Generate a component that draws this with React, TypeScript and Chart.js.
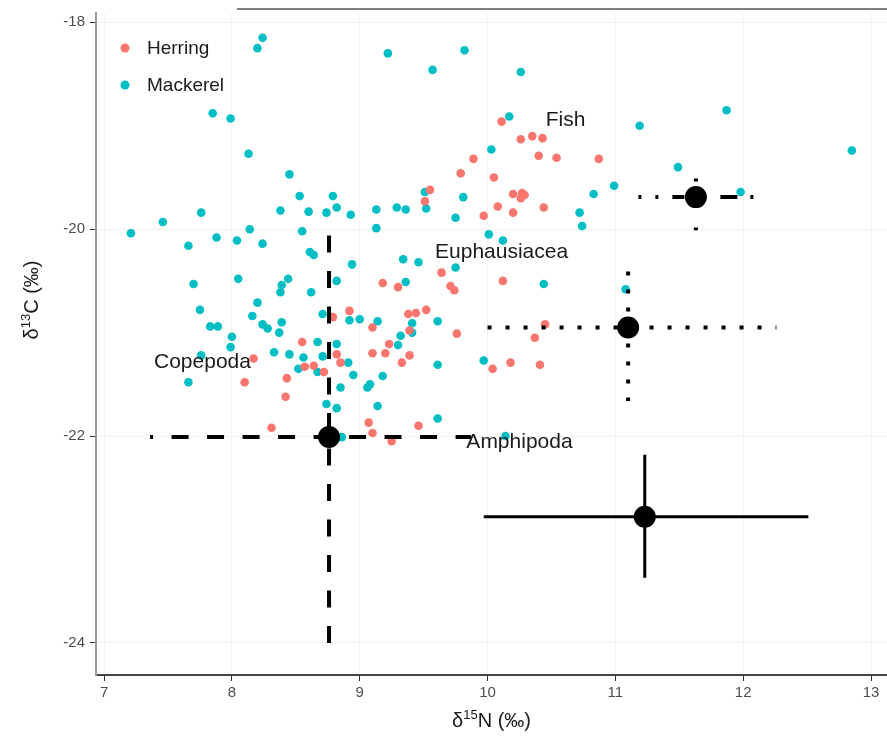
import React, { useEffect, useRef } from "react";
import { Chart, registerables } from "chart.js";
Chart.register(...registerables);

// ---- Data ----
const herringN = [10.11,10.26,10.35,10.43,9.89,10.40,10.54,10.87,9.79,10.05,10.20,10.27,10.26,10.29,9.55,9.51,10.08,10.44,10.20,9.97,9.64,9.71,9.74,9.18,9.30,10.12,8.79,8.92,9.10,9.38,9.44,9.52,9.39,9.76,10.45,10.37,8.55,8.17,8.10,8.82,8.85,9.23,9.10,9.20,9.39,9.33,8.57,8.64,8.72,8.43,8.42,10.04,10.18,10.41,8.31,9.07,9.10,9.46,9.25];
const herringC = [-18.96,-19.13,-19.10,-19.12,-19.32,-19.29,-19.31,-19.32,-19.46,-19.50,-19.66,-19.65,-19.70,-19.67,-19.62,-19.73,-19.78,-19.79,-19.84,-19.87,-20.42,-20.55,-20.59,-20.52,-20.56,-20.50,-20.85,-20.79,-20.95,-20.82,-20.81,-20.78,-20.98,-21.01,-20.92,-21.05,-21.09,-21.25,-21.48,-21.21,-21.29,-21.11,-21.20,-21.20,-21.22,-21.29,-21.33,-21.32,-21.38,-21.44,-21.62,-21.35,-21.29,-21.31,-21.92,-21.87,-21.97,-21.90,-22.05];

const mackerelN = [8.24,8.20,9.22,9.82,9.57,10.26,7.85,7.99,10.17,11.19,11.87,12.85,8.13,10.03,11.49,8.45,10.99,10.83,11.98,9.51,9.81,8.53,8.79,8.82,9.13,9.29,9.36,9.52,8.60,8.74,8.93,8.38,7.76,7.46,7.21,9.75,10.72,10.74,9.13,10.01,10.12,7.66,7.88,8.04,8.14,8.24,8.55,8.61,8.64,8.94,9.34,9.46,9.75,8.82,7.70,8.05,8.44,8.39,8.38,8.62,9.36,10.44,11.08,8.20,7.75,8.16,7.83,7.89,8.24,8.28,8.39,8.37,8.00,7.99,8.71,8.92,9.00,9.14,9.41,9.61,9.32,9.30,8.67,8.82,7.76,7.66,8.33,8.45,8.56,8.71,8.91,8.52,8.67,8.95,9.18,8.85,9.06,9.08,9.61,9.97,8.74,8.82,9.14,9.61,8.86,10.14,9.41];
const mackerelC = [-18.15,-18.25,-18.30,-18.27,-18.46,-18.48,-18.88,-18.93,-18.91,-19.00,-18.85,-19.24,-19.27,-19.23,-19.40,-19.47,-19.58,-19.66,-19.64,-19.64,-19.69,-19.68,-19.68,-19.79,-19.81,-19.79,-19.81,-19.80,-19.83,-19.84,-19.86,-19.82,-19.84,-19.93,-20.04,-19.89,-19.84,-19.97,-19.99,-20.05,-20.11,-20.16,-20.08,-20.11,-20.00,-20.14,-20.02,-20.22,-20.25,-20.34,-20.29,-20.32,-20.37,-20.50,-20.53,-20.48,-20.48,-20.54,-20.61,-20.61,-20.51,-20.53,-20.58,-20.71,-20.78,-20.84,-20.94,-20.94,-20.92,-20.96,-20.90,-21.00,-21.04,-21.14,-20.82,-20.88,-20.87,-20.89,-20.91,-20.89,-21.03,-21.12,-21.09,-21.11,-21.22,-21.48,-21.19,-21.21,-21.24,-21.23,-21.29,-21.35,-21.38,-21.41,-21.42,-21.53,-21.53,-21.50,-21.31,-21.27,-21.69,-21.73,-21.71,-21.83,-22.01,-22.00,-21.00];

const preyNames = ["Fish", "Euphausiacea", "Amphipoda", "Copepoda"];
const preyN = [11.63, 11.10, 8.76, 11.23];
const preyC = [-19.69, -20.95, -22.01, -22.78];
const preyNLow = [11.18, 10.00, 7.36, 9.97];
const preyNHigh = [12.08, 12.26, 9.87, 12.51];
const preyCTop = [-19.51, -20.41, -20.06, -22.18];
const preyCBottom = [-20.01, -21.66, -24.02, -23.37];
const labelN = [10.61, 10.11, 10.25, 7.77];
const labelC = [-18.95, -20.22, -22.06, -21.29];

const xTicks = [7, 8, 9, 10, 11, 12, 13];
const yTicks = [-24, -22, -20, -18];

const seriesNames = ["Herring", "Mackerel"];

// ---- Styles ----
const HERRING = "#F8766D";
const MACKEREL = "#00BFC4";
const FONT = '"Liberation Sans", Arial, Helvetica, sans-serif';
const dashH = [[3, 14, 3, 14, 12, 36, 17, 13, 3, 40], [4, 14], [17, 18.5], []];
const dashV = [[3, 46, 3, 40], [4, 14], [17, 18.5], []];
const dashOffH = [0, 0, 14, 0];
const lineW = [4, 4, 4, 3];

const overlayPlugin = {
  id: "overlay",
  afterDatasetsDraw(chart: any) {
    const { ctx, chartArea } = chart;
    const x = chart.scales.x;
    const y = chart.scales.y;
    ctx.save();
    // prey labels
    ctx.font = `21px ${FONT}`;
    ctx.fillStyle = "#1a1a1a";
    ctx.textAlign = "center";
    ctx.textBaseline = "middle";
    preyNames.forEach((name, i) => {
      ctx.fillText(name, x.getPixelForValue(labelN[i]), y.getPixelForValue(labelC[i]));
    });
    // legend
    const colors = [HERRING, MACKEREL];
    ctx.font = `19px ${FONT}`;
    ctx.textAlign = "left";
    seriesNames.forEach((n, i) => {
      const cy = chartArea.top + 35 + i * 37;
      ctx.fillStyle = colors[i];
      ctx.beginPath();
      ctx.arc(chartArea.left + 29, cy, 4.5, 0, Math.PI * 2);
      ctx.fill();
      ctx.fillStyle = "#1a1a1a";
      ctx.fillText(n, chartArea.left + 51, cy + 1);
    });
    ctx.restore();
  },
  afterDraw(chart: any) {
    const { ctx, chartArea } = chart;
    ctx.save();
    // stray top rule
    ctx.strokeStyle = "#555";
    ctx.lineWidth = 1.5;
    ctx.beginPath();
    ctx.moveTo(chartArea.left + 141, chartArea.top - 4);
    ctx.lineTo(chart.width, chartArea.top - 4);
    ctx.stroke();

    const drawSup = (base: string, sup: string, rest: string, cx: number, cy: number) => {
      ctx.font = `20px ${FONT}`;
      const w1 = ctx.measureText(base).width;
      const w3 = ctx.measureText(rest).width;
      ctx.font = `13px ${FONT}`;
      const w2 = ctx.measureText(sup).width;
      const total = w1 + w2 + w3;
      let sx = cx - total / 2;
      ctx.textAlign = "left";
      ctx.textBaseline = "alphabetic";
      ctx.fillStyle = "#1a1a1a";
      ctx.font = `20px ${FONT}`;
      ctx.fillText(base, sx, cy);
      sx += w1;
      ctx.font = `13px ${FONT}`;
      ctx.fillText(sup, sx, cy - 8);
      sx += w2;
      ctx.font = `20px ${FONT}`;
      ctx.fillText(rest, sx, cy);
    };
    // x title
    drawSup("δ", "15", "N (‰)", (chartArea.left + chartArea.right) / 2, 727);
    // y title
    ctx.save();
    ctx.translate(38, 300);
    ctx.rotate(-Math.PI / 2);
    drawSup("δ", "13", "C (‰)", 0, 0);
    ctx.restore();
    ctx.restore();
  },
};

export default function App() {
  const ref = useRef<HTMLCanvasElement | null>(null);
  useEffect(() => {
    if (!ref.current) return;
    const datasets: any[] = [];
    // error bars
    preyNames.forEach((name, i) => {
      datasets.push({
        label: name + " N",
        data: [{ x: preyNLow[i], y: preyC[i] }, { x: preyNHigh[i], y: preyC[i] }],
        showLine: true,
        borderColor: "#000",
        borderWidth: lineW[i],
        borderDash: dashH[i],
        borderDashOffset: dashOffH[i],
        borderCapStyle: "butt",
        pointRadius: 0,
        order: 2,
      });
      datasets.push({
        label: name + " C",
        data: [{ x: preyN[i], y: preyCTop[i] }, { x: preyN[i], y: preyCBottom[i] }],
        showLine: true,
        borderColor: "#000",
        borderWidth: lineW[i],
        borderDash: dashV[i],
        borderCapStyle: "butt",
        pointRadius: 0,
        order: 2,
      });
    });
    datasets.push({
      label: "Prey means",
      data: preyN.map((v, i) => ({ x: v, y: preyC[i] })),
      pointRadius: 11,
      pointBackgroundColor: "#000",
      pointBorderWidth: 0,
      showLine: false,
      order: 1,
    });
    datasets.push({
      label: seriesNames[1],
      data: mackerelN.map((v, i) => ({ x: v, y: mackerelC[i] })),
      pointRadius: 4.3,
      pointBackgroundColor: MACKEREL,
      pointBorderWidth: 0,
      order: 11,
    });
    datasets.push({
      label: seriesNames[0],
      data: herringN.map((v, i) => ({ x: v, y: herringC[i] })),
      pointRadius: 4.3,
      pointBackgroundColor: HERRING,
      pointBorderWidth: 0,
      order: 10,
    });

    const tickFont = { family: FONT, size: 15 };
    const chart = new Chart(ref.current, {
      type: "scatter",
      data: { datasets },
      plugins: [overlayPlugin],
      options: {
        responsive: false,
        animation: false,
        devicePixelRatio: 1,
        layout: { autoPadding: false, padding: { top: 13, right: 0, left: 0, bottom: 0 } },
        plugins: { legend: { display: false }, tooltip: { enabled: false } },
        scales: {
          x: {
            type: "linear",
            min: 6.937,
            max: 13.125,
            afterBuildTicks: (s: any) => {
              s.ticks = xTicks.map((v) => ({ value: v }));
            },
            afterFit: (s: any) => {
              s.height = 65;
              s.paddingLeft = 0;
              s.paddingRight = 0;
            },
            grid: { color: "#f3f3f3", tickColor: "#333", tickLength: 6, lineWidth: 1 },
            border: { color: "#444", width: 2 },
            ticks: {
              font: tickFont,
              color: "#4d4d4d",
              padding: 3,
              maxRotation: 0,
              autoSkip: false,
              callback: (v: any) => String(v),
            },
          },
          y: {
            type: "linear",
            min: -24.31,
            max: -17.91,
            afterBuildTicks: (s: any) => {
              s.ticks = yTicks.map((v) => ({ value: v }));
            },
            afterFit: (s: any) => {
              s.width = 96;
              s.paddingTop = 0;
              s.paddingBottom = 0;
            },
            grid: { color: "#f3f3f3", tickColor: "#333", tickLength: 6, lineWidth: 1 },
            border: { color: "#999", width: 2 },
            ticks: {
              font: tickFont,
              color: "#4d4d4d",
              padding: 5,
              autoSkip: false,
              callback: (v: any) => String(v),
            },
          },
        },
      },
    } as any);
    return () => chart.destroy();
  }, []);
  return (
    <div style={{ position: "absolute", left: 0, top: 0, width: 887, height: 740, background: "#fff" }}>
      <canvas ref={ref} width={887} height={740} style={{ display: "block" }} />
    </div>
  );
}
